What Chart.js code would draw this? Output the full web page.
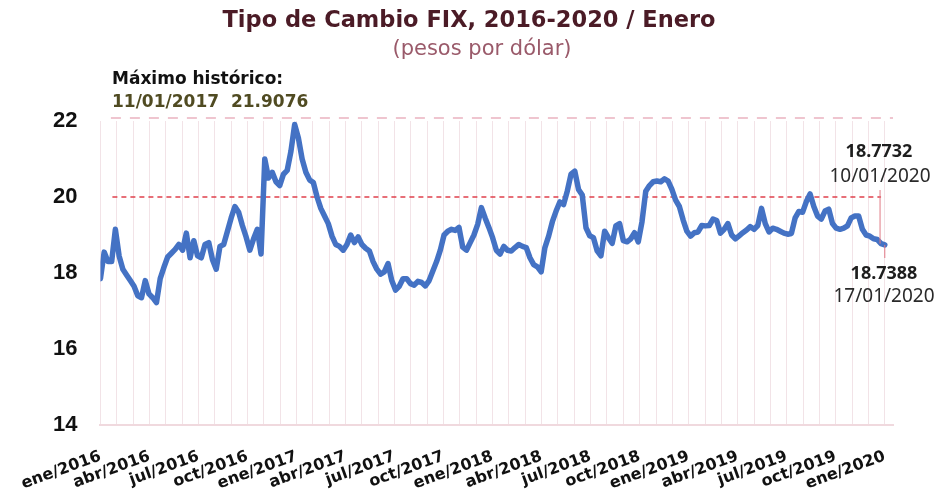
<!DOCTYPE html>
<html><head><meta charset="utf-8">
<script src="https://cdn.jsdelivr.net/npm/chart.js@4"></script>
<style>html,body{margin:0;padding:0;background:#fff;}#wrap{width:943px;height:490px;position:relative;}</style>
</head><body><div id="wrap"><canvas id="c"></canvas></div>
<script>
// Quarterly tick labels (one month gridline per month between them)
const tickLabels = ['ene/2016','abr/2016','jul/2016','oct/2016','ene/2017','abr/2017','jul/2017','oct/2017','ene/2018','abr/2018','jul/2018','oct/2018','ene/2019','abr/2019','jul/2019','oct/2019','ene/2020'];
const monthsOnAxis = 48;
// Weekly FIX values (pesos por dólar), from mid-Jan 2016 to 17/01/2020
const weeklyFix = [
 17.85,18.55,18.3,18.3,19.15,18.45,18.1,17.95,17.8,17.65,
 17.4,17.35,17.8,17.45,17.35,17.22,17.85,18.15,18.42,18.52,
 18.62,18.75,18.6,19.05,18.4,18.85,18.45,18.4,18.75,18.8,
 18.35,18.1,18.7,18.75,19.1,19.45,19.75,19.6,19.25,18.95,
 18.6,18.9,19.15,18.5,21.0,20.5,20.65,20.4,20.3,20.6,
 20.7,21.2,21.9076,21.55,21.0,20.65,20.45,20.38,20.0,19.7,
 19.5,19.3,18.97,18.75,18.7,18.6,18.75,19.0,18.8,18.95,
 18.75,18.65,18.58,18.3,18.1,17.97,18.03,18.25,17.8,17.55,
 17.65,17.85,17.85,17.72,17.68,17.78,17.75,17.66,17.8,18.05,
 18.3,18.6,19.0,19.1,19.15,19.12,19.2,18.68,18.6,18.8,
 19.0,19.28,19.72,19.45,19.2,18.93,18.6,18.5,18.7,18.6,
 18.58,18.67,18.75,18.7,18.67,18.4,18.22,18.16,18.03,18.67,
 18.97,19.35,19.63,19.87,19.8,20.16,20.6,20.68,20.2,20.05,
 19.19,18.98,18.93,18.58,18.45,19.1,18.93,18.78,19.24,19.3,
 18.85,18.82,18.9,19.06,18.82,19.35,20.15,20.3,20.4,20.42,
 20.4,20.48,20.42,20.2,19.92,19.75,19.4,19.1,18.97,19.06,
 19.08,19.25,19.24,19.25,19.42,19.38,19.05,19.15,19.3,19.0,
 18.9,18.98,19.06,19.13,19.22,19.15,19.25,19.7,19.3,19.08,
 19.18,19.15,19.1,19.05,19.02,19.04,19.45,19.62,19.6,19.88,
 20.08,19.75,19.5,19.42,19.63,19.68,19.3,19.18,19.15,19.18,
 19.24,19.45,19.5,19.5,19.15,19.0,18.97,18.9,18.88,18.7732,
 18.7388
];
const yTicks = [14,16,18,20,22];
const refHigh = [22];        // dashed pink line level
const refMid = [20];         // dashed red line level
const maxText = ['Máximo histórico:', '11/01/2017  21.9076'];
const lastDates = ['10/01/2020','17/01/2020'];
const lastValues = [18.7732, 18.7388];

const nPts = weeklyFix.length;
const lastIdx = nPts - 1;
const perMonth = lastIdx / monthsOnAxis;
const points = weeklyFix.map((v,i)=>({x:i,y:v}));

const annot = {
  id:'annot',
  beforeDatasetsDraw(chart){
    const ctx = chart.ctx, xs = chart.scales.x, ys = chart.scales.y, a = chart.chartArea;
    ctx.save();
    // pink dashed at 22
    let y = ys.getPixelForValue(refHigh[0]) - 3;
    ctx.strokeStyle = '#efc5cf'; ctx.lineWidth = 2.2; ctx.setLineDash([10,9]);
    ctx.beginPath(); ctx.moveTo(xs.getPixelForValue(2.8), y); ctx.lineTo(a.right, y); ctx.stroke();
    // red dashed at 20
    y = ys.getPixelForValue(refMid[0]);
    ctx.strokeStyle = '#e0404c'; ctx.lineWidth = 1.5; ctx.setLineDash([5,4]);
    ctx.beginPath(); ctx.moveTo(xs.getPixelForValue(3.2), y); ctx.lineTo(xs.getPixelForValue(lastIdx-1), y); ctx.stroke();
    ctx.restore();
  },
  afterDraw(chart){
    const ctx = chart.ctx, xs = chart.scales.x, ys = chart.scales.y;
    ctx.save();
    ctx.textBaseline = 'middle';
    ctx.textAlign = 'center';
    ctx.fillStyle = '#4b1b26';
    ctx.font = 'bold 22.5px "DejaVu Sans"';
    ctx.fillText('Tipo de Cambio FIX, 2016-2020 / Enero', 469, 21);
    ctx.fillStyle = '#9a5a6a';
    ctx.font = '21px "DejaVu Sans"';
    ctx.fillText('(pesos por dólar)', 482, 50);
    ctx.textAlign = 'left';
    ctx.fillStyle = '#111';
    ctx.font = 'bold 17px "DejaVu Sans"';
    ctx.fillText(maxText[0], 112, 80);
    ctx.fillStyle = '#504b22';
    ctx.fillText(maxText[1], 112, 103);
    // last points annotations
    const x1 = xs.getPixelForValue(lastIdx-1), y1 = ys.getPixelForValue(lastValues[0]);
    const x2 = xs.getPixelForValue(lastIdx), y2 = ys.getPixelForValue(lastValues[1]);
    ctx.strokeStyle = '#e07a86'; ctx.lineWidth = 1;
    ctx.beginPath(); ctx.moveTo(x1-1, 190); ctx.lineTo(x1-1, y1); ctx.stroke();
    ctx.beginPath(); ctx.moveTo(x2, y2); ctx.lineTo(x2, 258); ctx.stroke();
    ctx.textAlign = 'center';
    ctx.fillStyle = '#1e1e1e';
    ctx.font = 'bold 18px "Noto Sans"';
    ctx.fillText(lastValues[0].toFixed(4), 879, 152);
    ctx.fillText(lastValues[1].toFixed(4), 884, 274);
    ctx.fillStyle = '#2a2a2a';
    ctx.font = '19px "Noto Sans"';
    ctx.fillText(lastDates[0], 880, 177);
    ctx.fillText(lastDates[1], 884, 297);
    ctx.restore();
  }
};

new Chart(document.getElementById('c'), {
  type:'line',
  data:{datasets:[{data:points, borderColor:'#4472c4', borderWidth:5.5, pointRadius:0, tension:0, fill:false, borderJoinStyle:'round', borderCapStyle:'round'}]},
  options:{
    responsive:true, maintainAspectRatio:false, animation:false,
    layout:{padding:{top:121, right:50, bottom:0, left:0}},
    plugins:{legend:{display:false}, tooltip:{enabled:false}, title:{display:false}},
    scales:{
      x:{type:'linear', min:0, max:lastIdx + 2.2,
        afterBuildTicks:(s)=>{ s.ticks = Array.from({length:monthsOnAxis+1},(_,k)=>({value:k*perMonth})); },
        afterFit:(s)=>{ s.height = 65; },
        grid:{color:'#f2e3e7', lineWidth:1, drawTicks:false},
        border:{display:true, color:'#f0d9de', width:2},
        ticks:{autoSkip:false, minRotation:20, maxRotation:20, padding:22, color:'#111',
          font:{family:'DejaVu Sans', size:16, weight:'bold'},
          callback:(v,i)=> (i%3===0 ? tickLabels[i/3] : '')}
      },
      y:{min:14, max:22,
        afterBuildTicks:(s)=>{ s.ticks = yTicks.map(v=>({value:v})); },
        afterFit:(s)=>{ s.width = 100; },
        grid:{display:false, drawTicks:false},
        border:{display:false},
        ticks:{padding:23, color:'#111', font:{family:'Liberation Sans', size:22, weight:'bold'}}
      }
    }
  },
  plugins:[annot]
});
</script></body></html>
